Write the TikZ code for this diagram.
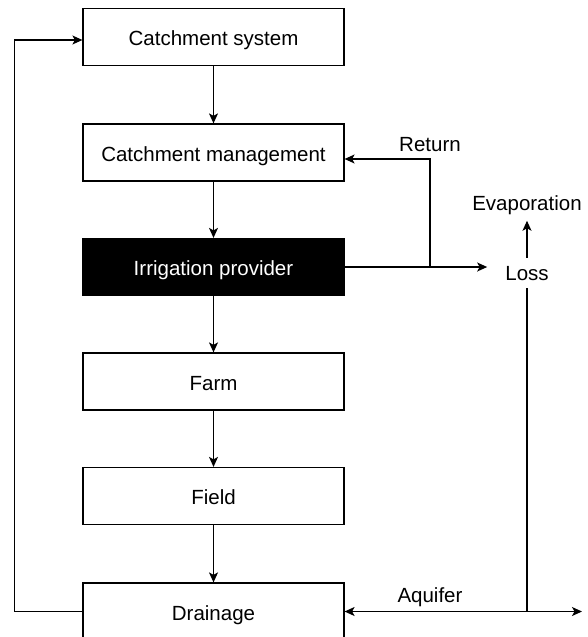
\documentclass[tikz,border=0pt]{standalone}
\usepackage{fontspec}
\setmainfont{Liberation Sans}
\usetikzlibrary{arrows.meta}
\begin{document}
\begin{tikzpicture}[x=1pt,y=-1pt,
    font=\fontsize{20.5}{24}\selectfont,
    box/.style={draw,line width=1.2pt,minimum width=261pt,minimum height=57pt,inner sep=0pt,text height=17pt,text depth=0pt},
    lbl/.style={inner sep=2pt},
    flow/.style={line width=1.2pt,-{Stealth[length=10pt,width=9pt,inset=2.5pt]}}]

    \useasboundingbox (0,0) rectangle (587,637);

    \node[box] (sys) at (213.5,37) {Catchment system};
    \node[box] (mgmt) at (213.5,152.5) {Catchment management};
    \node[box,fill=black,text=white] (prov) at (213.5,267) {Irrigation provider};
    \node[box] (farm) at (213.5,381.5) {Farm};
    \node[box] (field) at (213.5,496) {Field};
    \node[box] (drain) at (213.5,611.5) {Drainage};

    \node[lbl] (ret) at (430,145) {Return};
    \node[lbl] (evap) at (527,205) {Evaporation};
    \node[lbl] (loss) at (527,274) {Loss};
    \node[lbl] (aqui) at (430,597) {Aquifer};
    \coordinate (sink) at (582,611.5);

    \foreach \a/\b in {sys/mgmt,mgmt/prov,prov/farm,farm/field,field/drain}
    \draw[flow] (\a) -- (\b);

    \draw[flow] (drain.west) -- ++(-68,0) |- ([yshift=-3pt]sys.west);
    \draw[flow,shorten >=16pt] (prov.east) -- (prov.east -| loss.west);
    \draw[flow] (prov.east -| ret) |- ([yshift=-6.5pt]mgmt.east);
    \draw[flow,shorten <=7pt,shorten >=4pt] (loss.north) -- (loss.north |- evap.south);
    \draw[line width=1.2pt,shorten <=5pt] (loss.south) -- (loss.south |- drain.east);
    \draw[line width=1.2pt,{Stealth[length=10pt,width=9pt,inset=2.5pt]}-{Stealth[length=10pt,width=9pt,inset=2.5pt]}] (drain.east) -- (sink);

\end{tikzpicture}
\end{document}
